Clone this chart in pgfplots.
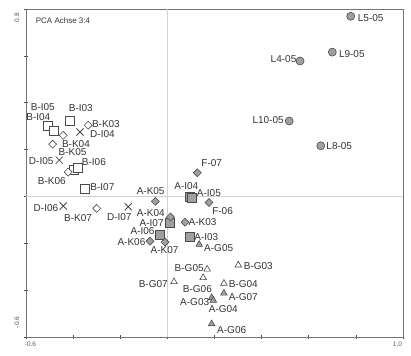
\documentclass[border=0pt]{standalone}
\usepackage{pgfplots}
\pgfplotsset{compat=1.18}
\usepackage{pgfplotstable}
\usepackage{fontspec}
\setmainfont{Liberation Sans}
\definecolor{lbl}{HTML}{333333}
\definecolor{mfill}{HTML}{A0A0A0}
\definecolor{mdraw}{HTML}{4A4A4A}
\definecolor{tlbl}{HTML}{555555}

% circles (L)
\pgfplotstableread{
x y dx dy label
0.778 0.769 20 -2 L5-05
0.700 0.616 19.5 -1.6 L9-05
0.563 0.578 -16.5 2.4 L4-05
0.517 0.322 -21 1.4 L10-05
0.651 0.216 18.5 0 L8-05
}\circles

% open squares (B-I)
\pgfplotstableread{
x y dx dy label
-0.506 0.300 -5.3 18.7 B-I05
-0.484 0.280 -15 13.4 B-I04
-0.416 0.321 11.5 12.7 B-I03
-0.399 0.112 0 0 {}
-0.381 0.124 16.3 5 B-I06
-0.350 0.034 17.5 1 B-I07
}\bsq

% open diamonds (B-K)
\pgfplotstableread{
x y dx dy label
-0.336 0.304 17.7 1 B-K03
-0.442 0.261 12.7 -8.3 B-K04
-0.487 0.223 20 -8.3 B-K05
-0.421 0.104 -16.3 -9 B-K06
-0.300 -0.051 -18.7 -9.4 B-K07
}\bdia

% crosses (D-I)
\pgfplotstableread{
x y dx dy label
-0.371 0.275 22.5 -1.6 D-I04
-0.459 0.155 -18 -0.7 D-I05
-0.442 -0.041 -17.3 -2.3 D-I06
-0.166 -0.044 -9 -10.6 D-I07
}\dcross

% gray squares (A-I)
\pgfplotstableread{
x y dx dy label
0.096 -0.002 -3.7 10.7 A-I04
0.104 -0.007 17 4.7 A-I05
0.011 -0.113 -18.3 0 A-I07
-0.031 -0.165 -17.5 3.8 A-I06
0.094 -0.172 16.8 0 A-I03
}\asq

% gray diamonds (A-K, F)
\pgfplotstableread{
x y dx dy label
-0.051 -0.021 -4.7 10.6 A-K05
0.013 -0.088 -19.7 3.7 A-K04
0.075 -0.110 17.5 0.3 A-K03
-0.074 -0.191 -18.5 -0.8 A-K06
-0.010 -0.195 -0.5 -8 A-K07
0.127 0.101 14.4 9.4 F-07
0.177 -0.026 13.5 -8.7 F-06
}\adia

% gray triangles (A-G)
\pgfplotstableread{
x y dx dy label
0.135 -0.205 19.5 -4 A-G05
0.240 -0.413 19.3 -3.4 A-G07
0.188 -0.432 -17 -4 A-G03
0.195 -0.444 10 -8.8 A-G04
0.188 -0.544 20 -6 A-G06
}\atri

% open triangles (B-G)
\pgfplotstableread{
x y dx dy label
0.169 -0.311 -18 1 B-G05
0.301 -0.293 20 -1 B-G03
0.028 -0.364 -20.7 -2 B-G07
0.152 -0.347 -5.8 -11.6 B-G06
0.240 -0.371 19.3 -0.7 B-G04
}\btri

\begin{document}
\begin{tikzpicture}
\begin{axis}[
  scale only axis, width=377pt, height=328pt,
  xmin=-0.6, xmax=1.0, ymin=-0.6, ymax=0.8,
  axis line style={draw=black!55, line width=0.8pt},
  xtick={-0.6,-0.4,-0.2,0,0.2,0.4,0.6,0.8,1.0},
  ytick={-0.6,-0.4,-0.2,0,0.2,0.4,0.6,0.8},
  xticklabels={}, yticklabels={},
  xtick pos=bottom, ytick pos=left,
  tick align=center, major tick length=4pt,
  tick style={draw=black!70, line width=0.6pt},
  clip=false,
  point meta=explicit symbolic,
  nodes near coords,
  visualization depends on={\thisrow{dx}\as\dx},
  visualization depends on={\thisrow{dy}\as\dy},
  nodes near coords style={anchor=center, xshift=\dx, yshift=\dy,
     font=\fontsize{10}{12}\selectfont, text=lbl, inner sep=0pt},
]
\coordinate (bl) at (rel axis cs:0,0);
\coordinate (tr) at (rel axis cs:1,1);
\draw[black!18, line width=0.5pt] (axis cs:0,-0.6) -- (axis cs:0,0.8);
\draw[black!18, line width=0.5pt] (axis cs:-0.6,0) -- (axis cs:1.0,0);

\addplot[only marks, mark=*, mark size=4pt,
  mark options={fill=mfill, draw=mdraw, line width=0.6pt}]
  table[x=x, y=y, meta=label] {\circles};
\addplot[only marks, mark=square*, mark size=4.5pt,
  mark options={fill=white, draw=mdraw, line width=0.6pt}]
  table[x=x, y=y, meta=label] {\bsq};
\addplot[only marks, mark=square*, mark size=2.8pt,
  mark options={rotate=45, fill=white, draw=mdraw, line width=0.6pt}]
  table[x=x, y=y, meta=label] {\bdia};
\addplot[only marks, mark=x, mark size=5pt,
  mark options={draw=mdraw, line width=0.8pt}]
  table[x=x, y=y, meta=label] {\dcross};
\addplot[only marks, mark=square*, mark size=4.5pt,
  mark options={fill=mfill, draw=mdraw, line width=0.6pt}]
  table[x=x, y=y, meta=label] {\asq};
\addplot[only marks, mark=square*, mark size=2.8pt,
  mark options={rotate=45, fill=mfill, draw=mdraw, line width=0.6pt}]
  table[x=x, y=y, meta=label] {\adia};
\addplot[only marks, mark=triangle*, mark size=3.8pt,
  mark options={fill=mfill, draw=mdraw, line width=0.6pt}]
  table[x=x, y=y, meta=label] {\atri};
\addplot[only marks, mark=triangle*, mark size=3.8pt,
  mark options={fill=white, draw=mdraw, line width=0.6pt}]
  table[x=x, y=y, meta=label] {\btri};

\node[font=\fontsize{8}{9}\selectfont, text=lbl, inner sep=0pt]
  at ([shift={(37pt,-12pt)}]rel axis cs:0,1) {PCA Achse 3:4};
\node[font=\fontsize{6.5}{7}\selectfont, text=tlbl, inner sep=0pt, rotate=90]
  at ([shift={(-9pt,-8.5pt)}]rel axis cs:0,1) {0.8};
\node[font=\fontsize{6.5}{7}\selectfont, text=tlbl, inner sep=0pt, rotate=90]
  at ([shift={(-9pt,14.5pt)}]rel axis cs:0,0) {-0.6};
\node[font=\fontsize{6.5}{7}\selectfont, text=tlbl, inner sep=0pt]
  at ([shift={(4.5pt,-7.5pt)}]rel axis cs:0,0) {-0.6};
\node[font=\fontsize{6.5}{7}\selectfont, text=tlbl, inner sep=0pt]
  at ([shift={(-5.5pt,-7.5pt)}]rel axis cs:1,0) {1.0};
\end{axis}
\pgfresetboundingbox
\path ([shift={(-26pt,-18pt)}]bl) rectangle ([shift={(8pt,9pt)}]tr);
\end{tikzpicture}
\end{document}
